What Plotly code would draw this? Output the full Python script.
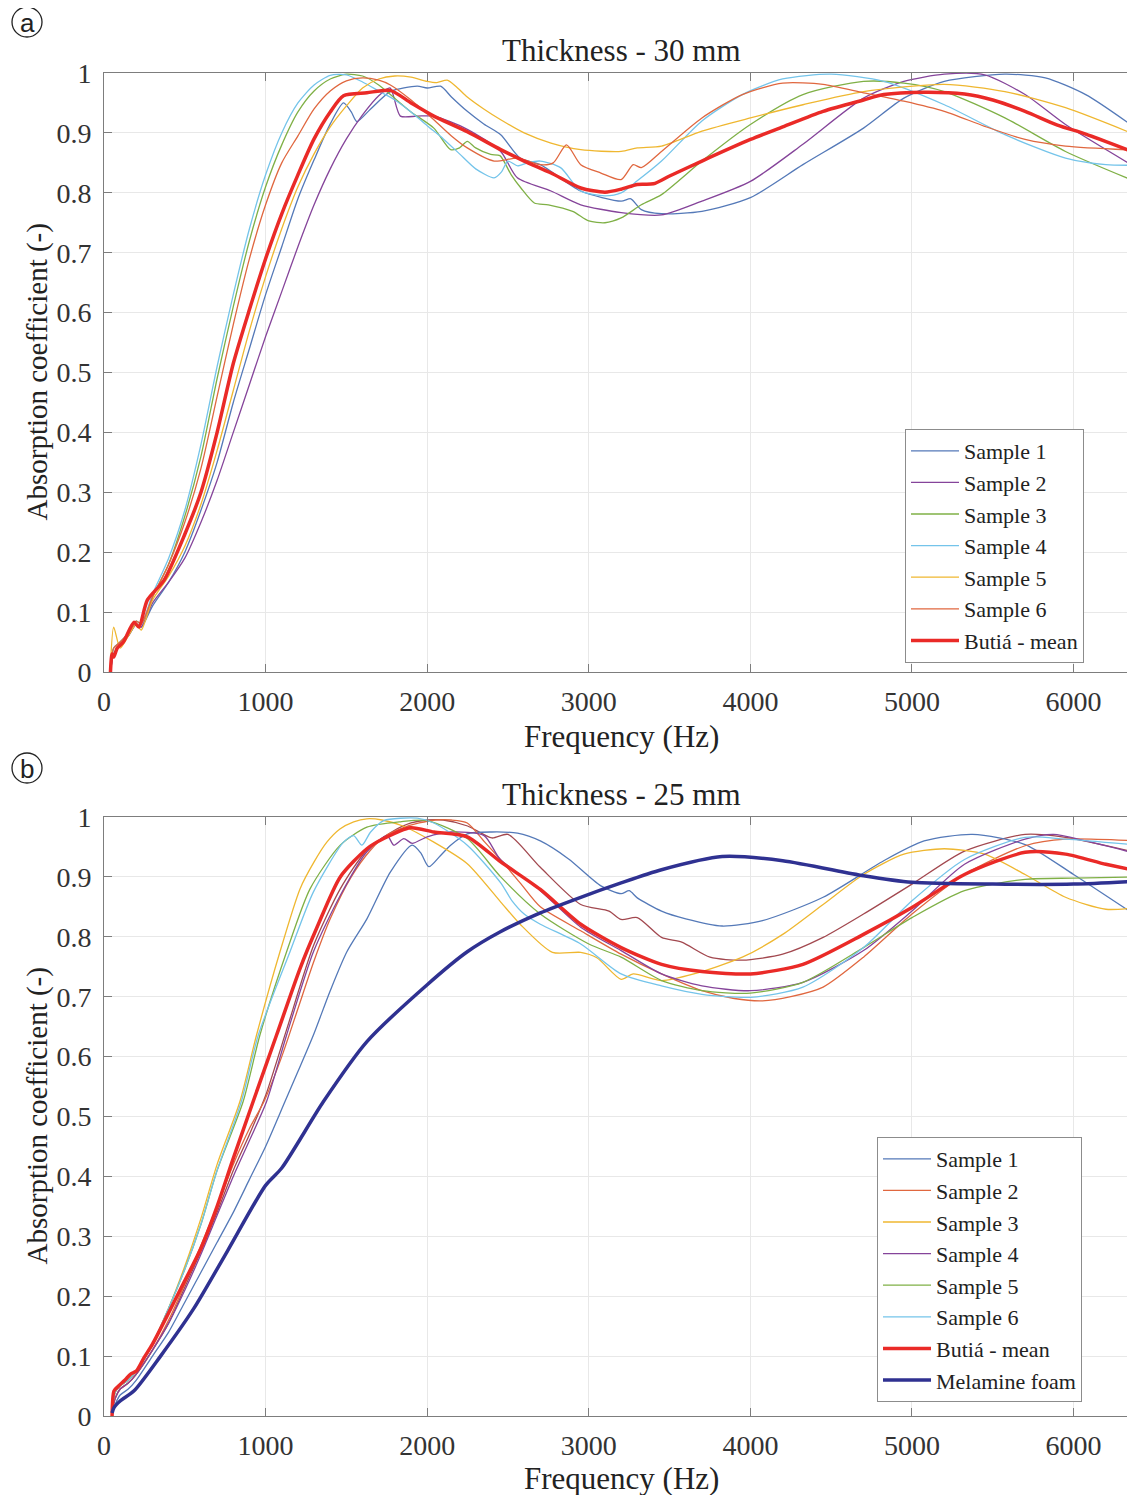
import plotly.graph_objects as go

# ---------------- data: panel (a) thickness 30 mm ----------------
top_s1_f = [40, 60, 100, 150, 200, 230, 300, 400, 500, 600, 700, 800, 900, 1000, 1100, 1200, 1300, 1400, 1482, 1530, 1565, 1650, 1772, 1938, 2000, 2083, 2150, 2248, 2350, 2455, 2575, 2700, 2950, 3200, 3260, 3325, 3450, 3700, 4000, 4325, 4700, 4950, 5200, 5575, 5825, 6075, 6400]
top_s1_a = [0.0, 0.03, 0.045, 0.06, 0.08, 0.075, 0.11, 0.15, 0.2, 0.27, 0.35, 0.45, 0.54, 0.63, 0.71, 0.79, 0.855, 0.915, 0.95, 0.935, 0.919, 0.94, 0.969, 0.978, 0.975, 0.978, 0.96, 0.936, 0.915, 0.897, 0.858, 0.847, 0.803, 0.786, 0.79, 0.772, 0.765, 0.769, 0.792, 0.847, 0.908, 0.958, 0.986, 0.998, 0.992, 0.964, 0.905]

top_s2_f = [40, 60, 100, 150, 200, 230, 300, 400, 500, 600, 700, 800, 900, 1000, 1100, 1200, 1300, 1400, 1500, 1600, 1700, 1770, 1834, 1938, 2041, 2248, 2455, 2558, 2766, 2950, 3200, 3450, 3700, 4000, 4325, 4700, 4950, 5200, 5450, 5700, 5950, 6400]
top_s2_a = [0.0, 0.03, 0.045, 0.06, 0.08, 0.075, 0.115, 0.15, 0.19, 0.25, 0.32, 0.4, 0.48, 0.56, 0.635, 0.71, 0.78, 0.84, 0.89, 0.93, 0.962, 0.975, 0.928, 0.928, 0.928, 0.906, 0.869, 0.825, 0.803, 0.78, 0.767, 0.763, 0.786, 0.819, 0.881, 0.958, 0.986, 0.998, 0.997, 0.964, 0.914, 0.84]

top_s3_f = [40, 60, 100, 150, 200, 230, 300, 400, 500, 600, 700, 800, 900, 1000, 1100, 1200, 1300, 1400, 1500, 1600, 1700, 1772, 1900, 2041, 2145, 2200, 2248, 2300, 2393, 2450, 2520, 2580, 2663, 2750, 2900, 3000, 3100, 3200, 3325, 3450, 3700, 4000, 4325, 4700, 4950, 5200, 5575, 5950, 6400]
top_s3_a = [0.01, 0.04, 0.05, 0.065, 0.085, 0.08, 0.125, 0.18, 0.26, 0.36, 0.49, 0.61, 0.72, 0.81, 0.88, 0.935, 0.97, 0.99, 0.998, 0.995, 0.98, 0.964, 0.935, 0.908, 0.872, 0.875, 0.886, 0.875, 0.864, 0.862, 0.83, 0.808, 0.783, 0.78, 0.769, 0.753, 0.75, 0.758, 0.78, 0.797, 0.853, 0.914, 0.964, 0.986, 0.983, 0.969, 0.925, 0.869, 0.817]

top_s4_f = [40, 60, 100, 150, 200, 230, 300, 400, 500, 600, 700, 800, 900, 1000, 1100, 1200, 1300, 1400, 1500, 1600, 1700, 1800, 1900, 2000, 2100, 2200, 2300, 2414, 2460, 2500, 2560, 2620, 2700, 2825, 2950, 3100, 3200, 3300, 3450, 3700, 3950, 4200, 4500, 4825, 5200, 5575, 5950, 6200, 6400]
top_s4_a = [0.01, 0.04, 0.05, 0.065, 0.085, 0.08, 0.13, 0.19, 0.27, 0.38, 0.51, 0.63, 0.74, 0.83, 0.9, 0.95, 0.98, 0.996, 0.997, 0.985, 0.97, 0.955, 0.935, 0.912, 0.89, 0.865, 0.84, 0.825, 0.835, 0.853, 0.845, 0.85, 0.853, 0.842, 0.803, 0.795, 0.8, 0.82, 0.853, 0.92, 0.964, 0.99, 0.998, 0.986, 0.947, 0.897, 0.858, 0.847, 0.846]

top_s5_f = [40, 60, 100, 150, 200, 230, 300, 400, 500, 600, 700, 800, 900, 1000, 1100, 1200, 1300, 1400, 1500, 1600, 1700, 1800, 1900, 2000, 2060, 2124, 2180, 2248, 2350, 2455, 2600, 2766, 2950, 3200, 3300, 3450, 3700, 4000, 4325, 4700, 5200, 5575, 5950, 6400]
top_s5_a = [0.01, 0.075, 0.04, 0.06, 0.08, 0.07, 0.12, 0.16, 0.21, 0.28, 0.37, 0.47, 0.57, 0.66, 0.74, 0.81, 0.865, 0.91, 0.945, 0.975, 0.99, 0.995, 0.993, 0.986, 0.984, 0.988, 0.977, 0.96, 0.94, 0.922, 0.9, 0.883, 0.872, 0.869, 0.875, 0.878, 0.903, 0.925, 0.947, 0.969, 0.981, 0.969, 0.942, 0.895]

top_s6_f = [40, 60, 100, 150, 200, 230, 300, 400, 500, 600, 700, 800, 900, 1000, 1100, 1200, 1300, 1400, 1500, 1600, 1700, 1772, 1900, 2041, 2150, 2248, 2414, 2558, 2700, 2780, 2862, 2950, 3075, 3200, 3275, 3325, 3450, 3700, 3950, 4200, 4450, 4700, 4950, 5200, 5450, 5700, 5950, 6400]
top_s6_a = [0.01, 0.04, 0.05, 0.065, 0.085, 0.08, 0.125, 0.18, 0.25, 0.34, 0.46, 0.58, 0.69, 0.78, 0.85, 0.895, 0.94, 0.97, 0.987, 0.992, 0.988, 0.98, 0.955, 0.922, 0.895, 0.875, 0.853, 0.858, 0.847, 0.85, 0.88, 0.847, 0.833, 0.822, 0.847, 0.842, 0.869, 0.925, 0.964, 0.983, 0.981, 0.967, 0.953, 0.936, 0.911, 0.889, 0.878, 0.871]

top_mean_f = [40, 50, 60, 82, 120, 186, 216, 268, 371, 500, 600, 700, 800, 900, 1000, 1100, 1200, 1300, 1400, 1482, 1627, 1772, 1900, 2041, 2248, 2455, 2600, 2766, 2950, 3100, 3200, 3300, 3400, 3500, 3700, 4000, 4200, 4450, 4700, 4825, 5075, 5325, 5500, 5700, 5900, 6075, 6400]
top_mean_a = [0.0, 0.03, 0.025, 0.04, 0.05, 0.083, 0.075, 0.12, 0.153, 0.23, 0.3, 0.4, 0.515, 0.605, 0.69, 0.765, 0.83, 0.89, 0.935, 0.962, 0.967, 0.971, 0.95, 0.928, 0.902, 0.872, 0.853, 0.833, 0.808, 0.801, 0.806, 0.814, 0.815, 0.828, 0.853, 0.889, 0.91, 0.936, 0.955, 0.964, 0.968, 0.965, 0.955, 0.936, 0.913, 0.898, 0.865]

# ---------------- data: panel (b) thickness 25 mm ----------------
bot_s1_f = [50, 70, 100, 150, 200, 300, 400, 500, 600, 700, 800, 900, 1000, 1120, 1200, 1296, 1400, 1503, 1627, 1772, 1907, 1960, 2010, 2080, 2145, 2248, 2400, 2559, 2700, 2875, 3075, 3200, 3250, 3300, 3450, 3600, 3825, 4075, 4450, 4825, 5075, 5375, 5700, 6000, 6400]
bot_s1_a = [0.005, 0.02, 0.035, 0.045, 0.06, 0.1, 0.14, 0.19, 0.24, 0.29, 0.34, 0.395, 0.45, 0.525, 0.575, 0.636, 0.71, 0.775, 0.83, 0.908, 0.953, 0.94, 0.917, 0.935, 0.953, 0.972, 0.975, 0.973, 0.96, 0.93, 0.885, 0.872, 0.877, 0.865, 0.843, 0.83, 0.818, 0.827, 0.866, 0.927, 0.96, 0.971, 0.954, 0.904, 0.833]

bot_s2_f = [50, 70, 100, 150, 200, 300, 400, 500, 600, 700, 800, 900, 990, 1100, 1200, 1300, 1400, 1530, 1650, 1750, 1850, 1950, 2050, 2150, 2248, 2350, 2450, 2575, 2700, 2950, 3200, 3450, 3700, 3900, 4075, 4250, 4450, 4700, 5000, 5325, 5700, 5950, 6400]
bot_s2_a = [0.01, 0.03, 0.045, 0.055, 0.07, 0.11, 0.16, 0.22, 0.285, 0.35, 0.42, 0.48, 0.525, 0.6, 0.68, 0.76, 0.83, 0.9, 0.945, 0.97, 0.982, 0.99, 0.995, 0.995, 0.99, 0.96, 0.93, 0.89, 0.85, 0.81, 0.771, 0.738, 0.71, 0.697, 0.693, 0.7, 0.716, 0.766, 0.838, 0.904, 0.952, 0.963, 0.96]

bot_s3_f = [50, 70, 100, 150, 200, 300, 400, 500, 600, 700, 841, 944, 1089, 1213, 1300, 1379, 1460, 1545, 1627, 1720, 1850, 2041, 2248, 2455, 2575, 2775, 2950, 3050, 3200, 3275, 3450, 3650, 3950, 4200, 4450, 4700, 4950, 5200, 5450, 5700, 5950, 6200, 6400]
bot_s3_a = [0.01, 0.04, 0.05, 0.06, 0.075, 0.12, 0.18, 0.25, 0.33, 0.42, 0.525, 0.636, 0.775, 0.88, 0.925, 0.958, 0.98, 0.992, 0.997, 0.995, 0.985, 0.958, 0.922, 0.858, 0.821, 0.774, 0.774, 0.765, 0.729, 0.738, 0.727, 0.738, 0.766, 0.804, 0.854, 0.904, 0.938, 0.947, 0.938, 0.904, 0.866, 0.846, 0.849]

bot_s4_f = [50, 70, 100, 150, 200, 300, 400, 500, 600, 700, 800, 900, 1006, 1130, 1296, 1462, 1627, 1752, 1793, 1855, 1907, 2000, 2145, 2352, 2450, 2700, 2950, 3200, 3450, 3700, 4000, 4325, 4700, 5000, 5325, 5700, 5875, 6075, 6400]
bot_s4_a = [0.01, 0.03, 0.045, 0.055, 0.07, 0.11, 0.155, 0.21, 0.27, 0.335, 0.4, 0.46, 0.525, 0.636, 0.775, 0.869, 0.942, 0.969, 0.953, 0.964, 0.956, 0.967, 0.975, 0.969, 0.93, 0.877, 0.816, 0.777, 0.738, 0.718, 0.71, 0.724, 0.777, 0.843, 0.921, 0.963, 0.971, 0.96, 0.938]

bot_s5_f = [50, 70, 100, 150, 200, 300, 400, 500, 600, 700, 861, 965, 1130, 1275, 1462, 1627, 1834, 2000, 2248, 2455, 2700, 3000, 3200, 3450, 3700, 4000, 4325, 4700, 5000, 5325, 5700, 6000, 6400]
bot_s5_a = [0.01, 0.04, 0.05, 0.06, 0.075, 0.12, 0.18, 0.245, 0.32, 0.41, 0.525, 0.636, 0.775, 0.88, 0.953, 0.983, 0.992, 0.994, 0.964, 0.9, 0.838, 0.788, 0.766, 0.727, 0.71, 0.706, 0.724, 0.782, 0.832, 0.877, 0.896, 0.898, 0.9]

bot_s6_f = [50, 70, 100, 150, 200, 300, 400, 500, 600, 700, 850, 955, 1151, 1296, 1482, 1545, 1596, 1650, 1731, 1938, 2041, 2248, 2455, 2525, 2600, 2700, 2950, 3200, 3450, 3700, 4000, 4325, 4700, 5000, 5325, 5700, 5950, 6400]
bot_s6_a = [0.01, 0.04, 0.05, 0.06, 0.075, 0.12, 0.18, 0.245, 0.32, 0.41, 0.525, 0.636, 0.775, 0.875, 0.958, 0.969, 0.953, 0.975, 0.994, 0.998, 0.99, 0.953, 0.89, 0.86, 0.838, 0.821, 0.788, 0.738, 0.718, 0.704, 0.699, 0.716, 0.782, 0.86, 0.929, 0.966, 0.963, 0.953]

# extra dark-red trace visible in panel (b) without a legend entry
bot_extra_f = [50, 70, 100, 150, 200, 300, 400, 500, 600, 700, 800, 900, 1000, 1130, 1296, 1462, 1627, 1780, 1900, 2000, 2100, 2250, 2400, 2500, 2700, 2950, 3125, 3200, 3300, 3450, 3575, 3750, 3950, 4200, 4450, 4700, 5000, 5325, 5700, 5950, 6400]
bot_extra_a = [0.01, 0.03, 0.045, 0.055, 0.07, 0.11, 0.155, 0.215, 0.275, 0.34, 0.41, 0.47, 0.535, 0.645, 0.785, 0.88, 0.945, 0.975, 0.99, 0.995, 0.995, 0.985, 0.965, 0.971, 0.916, 0.854, 0.843, 0.829, 0.832, 0.799, 0.791, 0.766, 0.761, 0.771, 0.799, 0.838, 0.888, 0.943, 0.971, 0.966, 0.94]

bot_mean_f = [50, 62, 90, 130, 165, 200, 247, 300, 392, 474, 600, 700, 800, 923, 1068, 1213, 1317, 1462, 1627, 1731, 1896, 2041, 2248, 2455, 2700, 2950, 3200, 3450, 3700, 4000, 4325, 4700, 5000, 5325, 5700, 5950, 6200, 6400]
bot_mean_a = [0.0, 0.042, 0.05, 0.06, 0.07, 0.075, 0.097, 0.12, 0.168, 0.212, 0.28, 0.35, 0.43, 0.525, 0.636, 0.747, 0.815, 0.9, 0.947, 0.964, 0.982, 0.975, 0.967, 0.925, 0.879, 0.821, 0.782, 0.754, 0.742, 0.738, 0.754, 0.804, 0.849, 0.904, 0.941, 0.938, 0.921, 0.91]

melamine_f = [50, 62, 100, 186, 350, 557, 763, 1000, 1100, 1358, 1627, 2000, 2248, 2450, 2700, 2950, 3200, 3450, 3825, 4200, 4700, 5000, 5500, 6000, 6400]
melamine_a = [0.005, 0.014, 0.025, 0.042, 0.1, 0.18, 0.275, 0.385, 0.414, 0.525, 0.625, 0.72, 0.775, 0.808, 0.84, 0.866, 0.89, 0.912, 0.934, 0.927, 0.902, 0.891, 0.888, 0.888, 0.893]

sample_names = ["Sample 1", "Sample 2", "Sample 3", "Sample 4", "Sample 5", "Sample 6"]
mean_name = "Butiá - mean"
foam_name = "Melamine foam"
panel_titles = ["Thickness - 30 mm", "Thickness - 25 mm"]
x_tick_vals = [0, 1000, 2000, 3000, 4000, 5000, 6000]
y_tick_vals = [0, 0.1, 0.2, 0.3, 0.4, 0.5, 0.6, 0.7, 0.8, 0.9, 1]
y_tick_text = ["0", "0.1", "0.2", "0.3", "0.4", "0.5", "0.6", "0.7", "0.8", "0.9", "1"]

# ---------------- styles ----------------
C_BLUE = "#5479b8"
C_ORANGE = "#e0673f"
C_YELLOW = "#efb730"
C_PURPLE = "#85449a"
C_GREEN = "#7fb046"
C_CYAN = "#74c4ea"
C_DARKRED = "#a2484f"
C_MEAN = "#ea2a27"
C_FOAM = "#2f3191"

FONT = "Liberation Serif, Times New Roman, serif"
OFF = 8                      # default page margin around the figure
W, H = 1135 - OFF, 1495 - OFF
L = 104 - OFF


def px(p):
    return (p - OFF - L) / (W - L)


def py(p):
    return 1 - (p - OFF) / H


TOP_DOM = [py(672), py(73)]
BOT_DOM = [py(1416), py(817)]

fig = go.Figure()

top_series = [(top_s1_f, top_s1_a, C_BLUE), (top_s2_f, top_s2_a, C_PURPLE), (top_s3_f, top_s3_a, C_GREEN),
              (top_s4_f, top_s4_a, C_CYAN), (top_s5_f, top_s5_a, C_YELLOW), (top_s6_f, top_s6_a, C_ORANGE)]
for name, (f, a, c) in zip(sample_names, top_series):
    fig.add_trace(go.Scatter(x=f, y=a, name=name, mode="lines", xaxis="x", yaxis="y", legend="legend",
                             line=dict(color=c, width=1.3, shape="spline", smoothing=0.7)))
fig.add_trace(go.Scatter(x=top_mean_f, y=top_mean_a, name=mean_name, mode="lines", xaxis="x", yaxis="y",
                         legend="legend", line=dict(color=C_MEAN, width=3.5, shape="spline", smoothing=0.7)))

fig.add_trace(go.Scatter(x=bot_extra_f, y=bot_extra_a, name="", showlegend=False, mode="lines",
                         xaxis="x2", yaxis="y2", line=dict(color=C_DARKRED, width=1.3, shape="spline", smoothing=0.7)))
bot_series = [(bot_s1_f, bot_s1_a, C_BLUE), (bot_s2_f, bot_s2_a, C_ORANGE), (bot_s3_f, bot_s3_a, C_YELLOW),
              (bot_s4_f, bot_s4_a, C_PURPLE), (bot_s5_f, bot_s5_a, C_GREEN), (bot_s6_f, bot_s6_a, C_CYAN)]
for name, (f, a, c) in zip(sample_names, bot_series):
    fig.add_trace(go.Scatter(x=f, y=a, name=name, mode="lines", xaxis="x2", yaxis="y2", legend="legend2",
                             line=dict(color=c, width=1.3, shape="spline", smoothing=0.7)))
fig.add_trace(go.Scatter(x=bot_mean_f, y=bot_mean_a, name=mean_name, mode="lines", xaxis="x2", yaxis="y2",
                         legend="legend2", line=dict(color=C_MEAN, width=3.5, shape="spline", smoothing=0.7)))
fig.add_trace(go.Scatter(x=melamine_f, y=melamine_a, name=foam_name, mode="lines", xaxis="x2", yaxis="y2",
                         legend="legend2", line=dict(color=C_FOAM, width=3.5, shape="spline", smoothing=0.7)))

axis_common = dict(showline=True, linecolor="#7d7d7d", linewidth=1, mirror="ticks", ticks="inside",
                   ticklen=8, tickcolor="#7d7d7d", showgrid=True, gridcolor="#e8e8e8", gridwidth=1,
                   zeroline=False, automargin=False,
                   tickfont=dict(family=FONT, size=28, color="#333333"))
xaxis_common = dict(axis_common, range=[0, 6380], tickvals=x_tick_vals, ticklabelstandoff=4)
yaxis_common = dict(axis_common, range=[0, 1], tickvals=y_tick_vals, ticktext=y_tick_text, ticklabelstandoff=6)

legend_common = dict(font=dict(family=FONT, size=22, color="#222222"), bgcolor="white",
                     bordercolor="#8c8c8c", borderwidth=1, xanchor="left", yanchor="top",
                     itemwidth=48, tracegroupgap=0)

fig.update_layout(
    width=W, height=H, paper_bgcolor="white", plot_bgcolor="white",
    margin=dict(l=L, r=0, t=0, b=0, autoexpand=False),
    xaxis=dict(xaxis_common, domain=[0, 1], anchor="y"),
    yaxis=dict(yaxis_common, domain=TOP_DOM, anchor="x"),
    xaxis2=dict(xaxis_common, domain=[0, 1], anchor="y2"),
    yaxis2=dict(yaxis_common, domain=BOT_DOM, anchor="x2"),
    legend=dict(legend_common, x=px(905), y=py(429)),
    legend2=dict(legend_common, x=px(877), y=py(1137)),
)

title_font = dict(family=FONT, size=31, color="#222222")
annos = []
for title, yc in zip(panel_titles, [50, 794]):
    annos.append(dict(text=title, x=px(621), y=py(yc), xref="paper", yref="paper",
                      xanchor="center", yanchor="middle", showarrow=False, font=title_font))
for yc in [737, 1478]:
    annos.append(dict(text="Frequency (Hz)", x=px(621), y=py(yc), xref="paper", yref="paper",
                      xanchor="center", yanchor="middle", showarrow=False, font=title_font))
for yc in [(73 + 672) / 2, (817 + 1416) / 2]:
    annos.append(dict(text="Absorption coefficient (-)", x=px(37), y=py(yc), xref="paper",
                      yref="paper", xanchor="center", yanchor="middle", textangle=-90, showarrow=False,
                      font=dict(family=FONT, size=29, color="#222222")))
shapes = []
for lab, yc in [("a", 22), ("b", 768)]:
    annos.append(dict(text=lab, x=px(27), y=py(yc + 1), xref="paper", yref="paper",
                      xanchor="center", yanchor="middle", showarrow=False,
                      font=dict(family="Liberation Sans, Arial, sans-serif", size=26, color="#222222")))
    shapes.append(dict(type="circle", xref="paper", yref="paper",
                       x0=px(12), x1=px(42), y0=py(yc + 15), y1=py(yc - 15),
                       line=dict(color="#222222", width=1.3)))
fig.update_layout(annotations=annos, shapes=shapes)

fig.write_html("out.html")
